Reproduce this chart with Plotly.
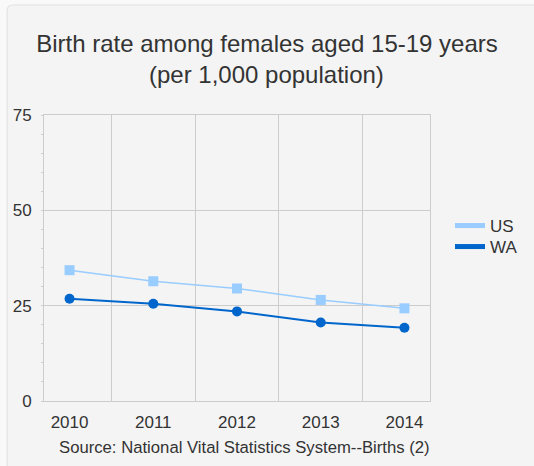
import plotly.graph_objects as go

years = ["2010", "2011", "2012", "2013", "2014"]
us_rate = [34.3, 31.4, 29.5, 26.5, 24.3]
wa_rate = [26.8, 25.5, 23.5, 20.6, 19.2]
y_ticks = [0, 25, 50, 75]

title_line1 = "Birth rate among females aged 15-19 years"
title_line2 = "(per 1,000 population)"
source_text = "Source: National Vital Statistics System--Births (2)"

FONT = "Liberation Sans, Arial, sans-serif"
TXT = "#333333"
US_COL = "#99ccff"
WA_COL = "#0066cc"

fig = go.Figure()
fig.add_trace(go.Scatter(
    x=years, y=us_rate, name="US", mode="lines+markers", showlegend=False,
    line=dict(color=US_COL, width=1.5),
    marker=dict(symbol="square", size=10, color=US_COL),
))
fig.add_trace(go.Scatter(
    x=years, y=wa_rate, name="WA", mode="lines+markers", showlegend=False,
    line=dict(color=WA_COL, width=2),
    marker=dict(symbol="circle", size=10, color=WA_COL),
))
# legend entries (line only, thick)
fig.add_trace(go.Scatter(x=[None], y=[None], name="US", mode="lines",
                         line=dict(color=US_COL, width=5), hoverinfo="skip",
                         legend="legend"))
fig.add_trace(go.Scatter(x=[None], y=[None], name="WA", mode="lines",
                         line=dict(color=WA_COL, width=5), hoverinfo="skip",
                         legend="legend2"))

W, H = 534, 466
ml, mr, mt, mb = 44, 103, 115, 65
pw, ph = W - ml - mr, H - mt - mb

def px2x(p):
    return (p - ml) / pw

def px2y(p):
    return 1 - (p - mt) / ph

# card background with rounded top-left corner
x0, x1 = px2x(7), px2x(560)
yt, yb = px2y(5), px2y(500)
rx, ry = 6 / pw, 6 / ph
card = (f"M {x0},{yb} L {x0},{yt - ry} Q {x0},{yt} {x0 + rx},{yt} "
        f"L {x1},{yt} L {x1},{yb} Z")
fig.add_shape(type="path", path=card, xref="paper", yref="paper",
              fillcolor="#f4f4f4", line=dict(color="#e2e2e2", width=1.2),
              layer="below")

fig.add_annotation(text=title_line2, xref="paper", yref="paper",
                   x=px2x(W / 2), y=px2y(74), showarrow=False,
                   xanchor="center", yanchor="middle",
                   font=dict(family=FONT, size=24, color=TXT))

fig.add_annotation(text=source_text, xref="paper", yref="paper",
                   x=px2x(245), y=px2y(447), showarrow=False,
                   xanchor="center", yanchor="middle",
                   font=dict(family=FONT, size=16.7, color=TXT))

leg_common = dict(xanchor="left", yanchor="top", bgcolor="rgba(0,0,0,0)",
                  font=dict(family=FONT, size=17, color=TXT), itemwidth=30)

fig.update_layout(
    width=W, height=H,
    margin=dict(l=ml, r=mr, t=mt, b=mb, pad=0),
    paper_bgcolor="#f9f9f9",
    plot_bgcolor="rgba(0,0,0,0)",
    font=dict(family=FONT, color=TXT, size=17),
    title=dict(text=title_line1, x=0.5, xref="container", xanchor="center",
               y=1 - 35 / H, yanchor="top",
               font=dict(family=FONT, size=24, color=TXT)),
    showlegend=True,
    legend=dict(x=px2x(450), y=px2y(208), **leg_common),
    legend2=dict(x=px2x(450), y=px2y(229), **leg_common),
    xaxis=dict(type="category", tickson="boundaries", showgrid=True,
               gridcolor="#cccccc", gridwidth=1, ticks="", showline=True,
               linecolor="#cccccc", mirror=True, zeroline=False,
               tickfont=dict(size=17, color=TXT), ticklabelstandoff=6,
               fixedrange=True),
    yaxis=dict(range=[0, 75], tickvals=y_ticks, showgrid=True,
               gridcolor="#cccccc", gridwidth=1, showline=True,
               linecolor="#cccccc", mirror=True, zeroline=False,
               ticks="", tickfont=dict(size=17, color=TXT),
               ticklabelstandoff=8,
               minor=dict(dtick=5, ticks="outside", ticklen=2,
                          tickcolor="#cccccc", showgrid=False),
               fixedrange=True),
)

fig.write_html("out.html", config={"displayModeBar": False},
               post_script="document.body.style.margin='0px';")
